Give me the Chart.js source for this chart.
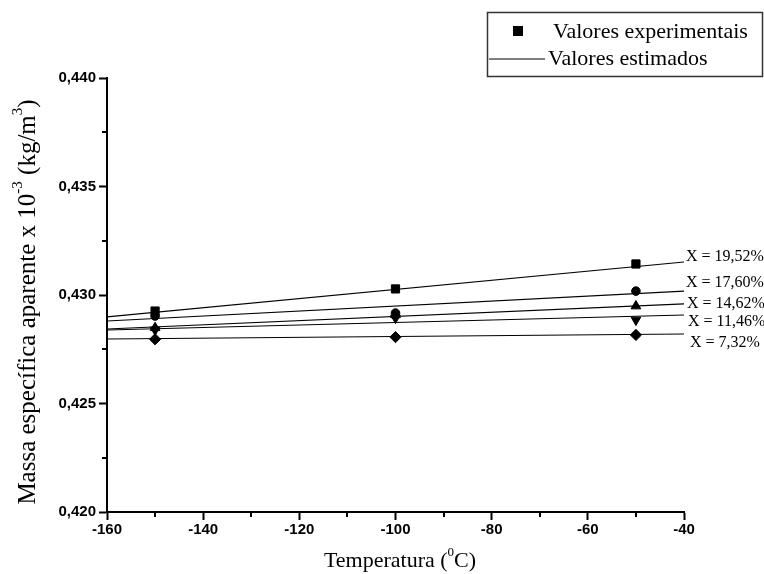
<!DOCTYPE html>
<html>
<head>
<meta charset="utf-8">
<script src="https://cdn.jsdelivr.net/npm/chart.js@4/dist/chart.umd.min.js"></script>
<style>
  html, body { margin: 0; padding: 0; background: #fff; }
  #wrap { width: 764px; height: 574px; }
</style>
</head>
<body>
<div id="wrap"><canvas id="chart" width="764" height="574"></canvas></div>
<script>
// measured temperatures (°C) and range of the fitted lines
const temps = [-150, -100, -50];
const fitTemps = [-160, -40];

const seriesNames = ["X = 19,52%", "X = 17,60%", "X = 14,62%", "X = 11,46%", "X = 7,32%"];

// experimental points
const exp1952 = [0.42926, 0.43028, 0.43143];
const exp1760 = [0.42903, 0.42917, 0.43018];
const exp1462 = [0.42849, 0.42908, 0.42949];
const exp1146 = [0.42839, 0.42894, 0.42885];
const exp732  = [0.42796, 0.42806, 0.42816];

// estimated (fitted) lines, value at -160 and at -40
const fit1952 = [0.42899, 0.43152];
const fit1760 = [0.42880, 0.43018];
const fit1462 = [0.42843, 0.42959];
const fit1146 = [0.42839, 0.42908];
const fit732  = [0.42797, 0.42820];

const legendNames = ["Valores experimentais", "Valores estimados"];

const expSets = [exp1952, exp1760, exp1462, exp1146, exp732];
const fitSets = [fit1952, fit1760, fit1462, fit1146, fit732];
const markers = [
  { style: "rect", r: 5.8, rot: 0 },
  { style: "circle", r: 4.3, rot: 0 },
  { style: "triangle", r: 5.6, rot: 0 },
  { style: "triangle", r: 5.6, rot: 180 },
  { style: "rectRot", r: 5.6, rot: 0 }
];
// label offsets (px) from the end of each fitted line
const labelDx = [2, 2, 3, 4, 6];
const labelDy = [-5, -8, 0, 7, 9];

const serif = "'Liberation Serif', 'Times New Roman', serif";

const datasets = [];
fitSets.forEach((f, i) => {
  datasets.push({
    label: seriesNames[i] + " est.",
    data: fitTemps.map((t, k) => ({ x: t, y: f[k] })),
    showLine: true,
    borderColor: "#000",
    borderWidth: 1.1,
    pointRadius: 0,
    fill: false
  });
});
expSets.forEach((e, i) => {
  datasets.push({
    label: seriesNames[i],
    data: temps.map((t, k) => ({ x: t, y: e[k] })),
    showLine: false,
    pointStyle: markers[i].style,
    pointRadius: markers[i].r,
    pointRotation: markers[i].rot,
    pointBackgroundColor: "#000",
    pointBorderColor: "#000",
    pointBorderWidth: 1
  });
});

// text with a raised part, drawn piece by piece
const drawRich = (ctx, parts, x, y, size) => {
  const big = `${size}px ${serif}`;
  const small = `${Math.round(size * 0.6)}px ${serif}`;
  let total = 0;
  parts.forEach((p) => {
    ctx.font = p.sup ? small : big;
    total += ctx.measureText(p.t).width;
  });
  let cx = x - total / 2;
  ctx.textAlign = "left";
  ctx.textBaseline = "middle";
  parts.forEach((p) => {
    ctx.font = p.sup ? small : big;
    ctx.fillText(p.t, cx, p.sup ? y - size * 0.38 : y);
    cx += ctx.measureText(p.t).width;
  });
};

const decor = {
  id: "decor",
  afterDraw(chart) {
    const { ctx, scales, chartArea } = chart;
    const xs = scales.x, ys = scales.y;
    ctx.save();
    ctx.fillStyle = "#000";
    ctx.strokeStyle = "#000";

    // minor ticks
    ctx.lineWidth = 2;
    ctx.beginPath();
    for (let v = -150; v <= -50; v += 20) {
      const px = Math.round(xs.getPixelForValue(v));
      ctx.moveTo(px, chartArea.bottom);
      ctx.lineTo(px, chartArea.bottom + 5);
    }
    for (let v = 0.4225; v < 0.440; v += 0.005) {
      const py = Math.round(ys.getPixelForValue(v));
      ctx.moveTo(chartArea.left, py);
      ctx.lineTo(chartArea.left - 5, py);
    }
    ctx.stroke();

    // labels at the end of each fitted line
    ctx.font = `16px ${serif}`;
    ctx.textAlign = "left";
    ctx.textBaseline = "middle";
    fitSets.forEach((f, i) => {
      const px = xs.getPixelForValue(fitTemps[1]);
      const py = ys.getPixelForValue(f[1]);
      ctx.fillText(seriesNames[i], px + labelDx[i], py + labelDy[i]);
    });

    // axis titles
    drawRich(ctx, [{ t: "Temperatura (" }, { t: "0", sup: true }, { t: "C)" }],
      400, 561, 22);
    ctx.save();
    ctx.translate(28, 302);
    ctx.rotate(-Math.PI / 2);
    drawRich(ctx, [
      { t: "Massa específica aparente x 10" }, { t: "-3", sup: true },
      { t: " (kg/m" }, { t: "3", sup: true }, { t: ")" }
    ], 0, 0, 25);
    ctx.restore();

    // legend box
    ctx.lineWidth = 1.5;
    ctx.strokeStyle = "#333";
    ctx.strokeRect(487.5, 12.5, 275, 64);
    ctx.fillRect(513, 26, 10, 10);
    ctx.lineWidth = 1.1;
    ctx.strokeStyle = "#000";
    ctx.beginPath();
    ctx.moveTo(489, 59);
    ctx.lineTo(545, 59);
    ctx.stroke();
    ctx.font = `22px ${serif}`;
    ctx.textAlign = "left";
    ctx.textBaseline = "middle";
    ctx.fillText(legendNames[0], 553, 32);
    ctx.fillText(legendNames[1], 548, 59);
    ctx.restore();
  }
};

const tickFont = { family: "'Liberation Sans', Arial, sans-serif", size: 15, weight: "bold" };

new Chart(document.getElementById("chart"), {
  type: "scatter",
  data: { datasets },
  options: {
    responsive: false,
    animation: false,
    devicePixelRatio: 1,
    layout: { padding: { top: 78, right: 80, left: 0, bottom: 0 } },
    plugins: { legend: { display: false }, tooltip: { enabled: false } },
    scales: {
      x: {
        type: "linear",
        min: -160,
        max: -40,
        afterFit: (s) => { s.height = 62; },
        border: { color: "#000", width: 2 },
        grid: { drawOnChartArea: false, tickLength: 8, tickWidth: 2, tickColor: "#000" },
        ticks: { stepSize: 20, color: "#000", font: tickFont, padding: 1, maxRotation: 0 }
      },
      y: {
        type: "linear",
        min: 0.420,
        max: 0.440,
        afterFit: (s) => { s.width = 107; },
        border: { color: "#000", width: 2 },
        grid: { drawOnChartArea: false, tickLength: 8, tickWidth: 2, tickColor: "#000" },
        ticks: {
          stepSize: 0.005,
          color: "#000",
          font: tickFont,
          padding: 3,
          callback: (v) => v.toFixed(3).replace(".", ",")
        }
      }
    }
  },
  plugins: [decor]
});
</script>
</body>
</html>
